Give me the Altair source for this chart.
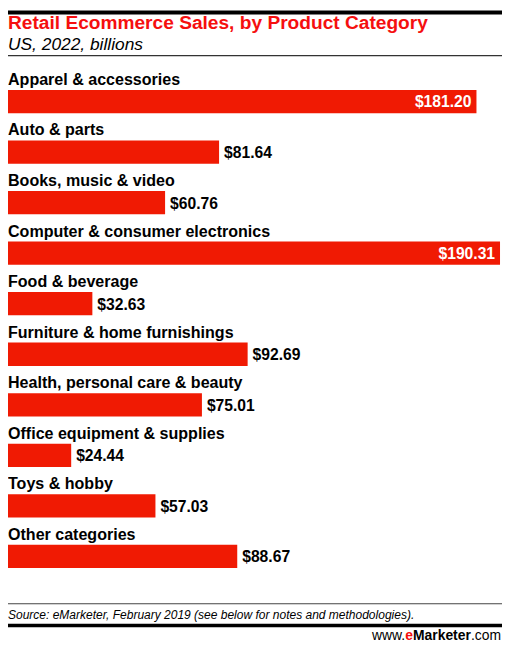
import altair as alt
import pandas as pd

# data
categories = [
    "Apparel & accessories",
    "Auto & parts",
    "Books, music & video",
    "Computer & consumer electronics",
    "Food & beverage",
    "Furniture & home furnishings",
    "Health, personal care & beauty",
    "Office equipment & supplies",
    "Toys & hobby",
    "Other categories",
]
sales = [181.20, 81.64, 60.76, 190.31, 32.63, 92.69, 75.01, 24.44, 57.03, 88.67]

title_text = "Retail Ecommerce Sales, by Product Category"
subtitle_text = "US, 2022, billions"
source_text = "Source: eMarketer, February 2019 (see below for notes and methodologies)."

FONT = "Liberation Sans"
RED_BAR = "#f01a03"
RED_TITLE = "#f50f0f"
W, H = 496, 533

df = pd.DataFrame({"category": categories, "sales": sales})

y_enc = alt.Y(
    "category:N", sort=categories, axis=None,
    scale=alt.Scale(paddingInner=0.539, paddingOuter=0.5),
)
x_enc = alt.X("sales:Q", axis=None, scale=alt.Scale(domain=[0, 190.31], nice=False))

base = alt.Chart(df).transform_calculate(
    label="'$' + format(datum.sales, '.2f')"
)

bars = base.mark_bar(color=RED_BAR).encode(x=x_enc, y=y_enc)

names = base.mark_text(
    align="left", baseline="alphabetic", dy=-16.75, font=FONT,
    fontSize=16.2, fontWeight="bold", color="#000000",
).encode(x=alt.value(0), y=y_enc, text="category:N")

inside = base.transform_filter("datum.sales > 150").mark_text(
    align="right", baseline="middle", dx=-5, dy=1, font=FONT,
    fontSize=15.8, fontWeight="bold", color="#ffffff",
).encode(x=x_enc, y=y_enc, text="label:N")

outside = base.transform_filter("datum.sales <= 150").mark_text(
    align="left", baseline="middle", dx=5, dy=1, font=FONT,
    fontSize=15.8, fontWeight="bold", color="#000000",
).encode(x=x_enc, y=y_enc, text="label:N")

# decorations: header, rules and footer
one = pd.DataFrame({"t": [0]})


def rule(y, width, color):
    return alt.Chart(one).mark_rule(color=color, strokeWidth=width).encode(
        x=alt.value(0), x2=alt.value(498), y=alt.value(y)
    )


def label(text, x, y, size, align="left", weight="normal", style="normal", color="#000000"):
    return alt.Chart(one).mark_text(
        text=text, align=align, baseline="alphabetic", font=FONT, fontSize=size,
        fontWeight=weight, fontStyle=style, color=color,
    ).encode(x=alt.value(x), y=alt.value(y))


top_rule = rule(-52.5, 4, "#000000")
title = label(title_text, 0, -35.5, 19.3, weight="bold", color=RED_TITLE)
subtitle = label(subtitle_text, 0, -14.5, 17.5, style="italic")
sub_rule = rule(-9, 1.2, "#333333")

foot_rule = rule(543.5, 1.2, "#444444")
source = label(source_text, 0, 558.5, 12.1, style="italic")
foot_thick = rule(565.5, 3.5, "#000000")
brand_com = label(".com", 497, 580.5, 14, align="right")
brand_mk = label("Marketer", 466.6, 580.5, 14, align="right", weight="bold")
brand_e = label("e", 408.2, 580.5, 14, align="right", weight="bold", color=RED_TITLE)
brand_www = label("www.", 400.4, 580.5, 14, align="right")

chart = alt.layer(
    bars, names, inside, outside,
    top_rule, title, subtitle, sub_rule,
    foot_rule, source, foot_thick, brand_com, brand_mk, brand_e, brand_www,
).properties(
    width=W, height=H,
    autosize=alt.AutoSizeParams(type="none"),
    padding={"left": 0, "top": 54.5, "right": 2, "bottom": 48.5},
).configure_view(strokeWidth=0)

chart.save("out.html", embed_options={"renderer": "svg", "actions": False})
